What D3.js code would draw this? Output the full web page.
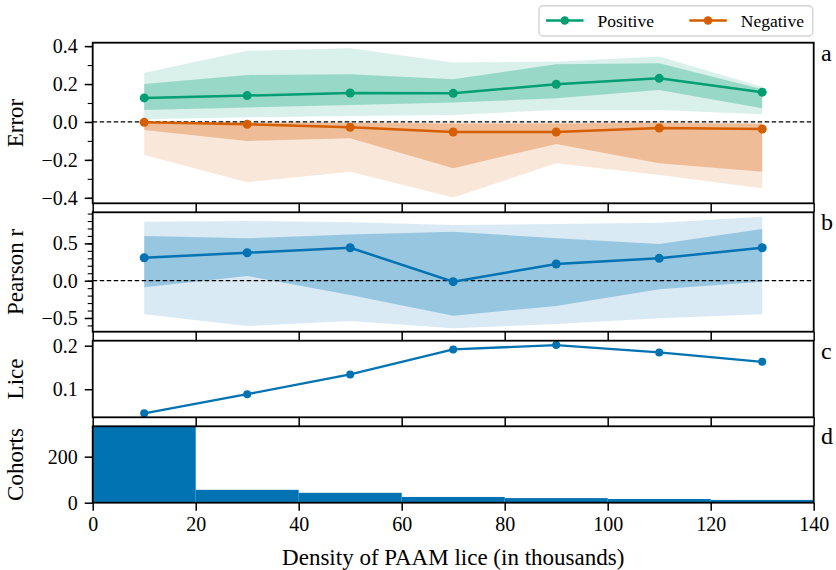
<!DOCTYPE html>
<html>
<head>
<meta charset="utf-8">
<script src="https://cdn.jsdelivr.net/npm/d3@7"></script>
<style>
  body { margin: 0; background: #fff; }
  svg { display: block; }
  text { font-family: "Liberation Serif", "Times New Roman", serif; fill: #000; }
</style>
</head>
<body>
<svg id="chart" width="836" height="570"></svg>
<script>
// Bin centres (density of PAAM lice, thousands)
const density = [10, 30, 50, 70, 90, 110, 130];

// Panel a: error for positive / negative cases, median with 25-75% and 5-95% bands
const posMean    = [0.127, 0.139, 0.153, 0.151, 0.199, 0.230, 0.157];
const posInnerHi = [0.200, 0.248, 0.252, 0.225, 0.304, 0.310, 0.172];
const posInnerLo = [0.063, 0.076, 0.090, 0.102, 0.125, 0.169, 0.072];
const posOuterHi = [0.260, 0.375, 0.389, 0.313, 0.318, 0.345, 0.186];
const posOuterLo = [0.014, 0.025, 0.032, 0.037, 0.063, 0.063, 0.040];

const negMean    = [-0.002, -0.012, -0.028, -0.053, -0.053, -0.032, -0.037];
const negInnerHi = [-0.003, -0.004, -0.006, -0.008, -0.008, -0.006, -0.010];
const negInnerLo = [-0.042, -0.100, -0.086, -0.244, -0.116, -0.218, -0.262];
const negOuterHi = [0.000, 0.000, -0.002, -0.003, -0.003, -0.002, -0.005];
const negOuterLo = [-0.174, -0.318, -0.262, -0.399, -0.218, -0.280, -0.350];

// Panel b: Pearson correlation
const pearsonMean    = [0.308, 0.375, 0.442, -0.013, 0.224, 0.300, 0.442];
const pearsonInnerHi = [0.599, 0.568, 0.621, 0.657, 0.568, 0.492, 0.693];
const pearsonInnerLo = [-0.089, 0.063, -0.192, -0.469, -0.339, -0.116, -0.013];
const pearsonOuterHi = [0.791, 0.800, 0.782, 0.747, 0.760, 0.778, 0.858];
const pearsonOuterLo = [-0.451, -0.607, -0.540, -0.638, -0.580, -0.504, -0.451];

// Panel c: mean lice
const lice = [0.0446, 0.0885, 0.134, 0.1915, 0.2015, 0.1845, 0.163];

// Panel d: cohort counts per density bin
const binEdges = [0, 20, 40, 60, 80, 100, 120, 140];
const cohorts = [332, 56, 43, 25, 20, 16, 12];

const xTicks = [0, 20, 40, 60, 80, 100, 120, 140];
const legendLabels = ["Positive", "Negative"];

const GREEN = "#029e73", ORANGE = "#d55e00", BLUE = "#0173b2";
const SERIF = '"Liberation Serif", "Times New Roman", serif';

const svg = d3.select("#chart");
const left = 92.7, right = 813.7;
const x = d3.scaleLinear().domain([0, 140]).range([left, right]);

const panels = [
  { key: "a", top: 42.7, bottom: 203.3, domain: [-0.429, 0.418], label: "Error",
    ticks: [-0.4, -0.2, 0.0, 0.2, 0.4], minor: d3.range(-0.4, 0.41, 0.1), fmt: ".1f" },
  { key: "b", top: 212.3, bottom: 331.7, domain: [-0.684, 0.917], label: "Pearson r",
    ticks: [-0.5, 0.0, 0.5], minor: d3.range(-0.6, 0.91, 0.1), fmt: ".1f" },
  { key: "c", top: 340.7, bottom: 417.3, domain: [0.0355, 0.2115], label: "Lice",
    ticks: [0.1, 0.2], minor: [], fmt: ".1f" },
  { key: "d", top: 426.3, bottom: 502.7, domain: [0, 332], label: "Cohorts",
    ticks: [0, 200], minor: [], fmt: "d" }
];
panels.forEach(p => {
  p.y = d3.scaleLinear().domain(p.domain).range([p.bottom, p.top]);
});
const [pa, pb, pc, pd] = panels;

function band(g, y, lo, hi, color, opacity) {
  const area = d3.area()
    .x((d, i) => x(density[i]))
    .y0((d, i) => y(lo[i]))
    .y1((d, i) => y(hi[i]));
  g.append("path").datum(density).attr("d", area)
    .attr("fill", color).attr("fill-opacity", opacity).attr("stroke", "none");
}

function series(g, y, vals, color, r, w) {
  const line = d3.line().x((d, i) => x(density[i])).y(d => y(d));
  g.append("path").datum(vals).attr("d", line)
    .attr("fill", "none").attr("stroke", color).attr("stroke-width", w);
  g.selectAll(null).data(vals).enter().append("circle")
    .attr("cx", (d, i) => x(density[i])).attr("cy", d => y(d)).attr("r", r)
    .attr("fill", color);
}

function zeroLine(g, y) {
  g.append("line").attr("x1", left).attr("x2", right)
    .attr("y1", y(0)).attr("y2", y(0))
    .attr("stroke", "#000").attr("stroke-width", 1.2)
    .attr("stroke-dasharray", "4.5,2.5");
}

// Panel a
{
  const g = svg.append("g");
  band(g, pa.y, posOuterLo, posOuterHi, GREEN, 0.15);
  band(g, pa.y, posInnerLo, posInnerHi, GREEN, 0.3);
  band(g, pa.y, negOuterLo, negOuterHi, ORANGE, 0.15);
  band(g, pa.y, negInnerLo, negInnerHi, ORANGE, 0.3);
  zeroLine(g, pa.y);
  series(g, pa.y, posMean, GREEN, 4.5, 2.5);
  series(g, pa.y, negMean, ORANGE, 4.5, 2.5);
}
// Panel b
{
  const g = svg.append("g");
  band(g, pb.y, pearsonOuterLo, pearsonOuterHi, BLUE, 0.15);
  band(g, pb.y, pearsonInnerLo, pearsonInnerHi, BLUE, 0.3);
  zeroLine(g, pb.y);
  series(g, pb.y, pearsonMean, BLUE, 4.5, 2.5);
}
// Panel c
{
  const g = svg.append("g");
  series(g, pc.y, lice, BLUE, 4, 2.3);
}
// Panel d: histogram
{
  const g = svg.append("g");
  g.selectAll(null).data(cohorts).enter().append("rect")
    .attr("x", (d, i) => x(binEdges[i]))
    .attr("width", (d, i) => x(binEdges[i + 1]) - x(binEdges[i]))
    .attr("y", d => pd.y(d))
    .attr("height", d => pd.y(0) - pd.y(d))
    .attr("fill", BLUE);
}

// Axes, frames and labels
panels.forEach((p, idx) => {
  const isLast = idx === panels.length - 1;

  const xa = svg.append("g").attr("transform", `translate(0,${p.bottom})`)
    .attr("font-family", SERIF)
    .call(d3.axisBottom(x).tickValues(xTicks).tickSize(isLast ? 8 : 9)
      .tickPadding(6.5).tickFormat(isLast ? d3.format("d") : () => ""));
  xa.attr("font-family", SERIF);
  xa.select(".domain").remove();
  xa.selectAll("line").attr("stroke", "#000").attr("stroke-width", 1.5);
  xa.selectAll("text").attr("font-size", 20).attr("fill", "#000")
    .style("font-family", SERIF);

  if (p.minor.length) {
    const ma = svg.append("g").attr("transform", `translate(${left},0)`)
      .call(d3.axisLeft(p.y).tickValues(p.minor).tickSize(5).tickFormat(() => ""));
    ma.select(".domain").remove();
    ma.selectAll("line").attr("stroke", "#000").attr("stroke-width", 1.1);
  }
  const ya = svg.append("g").attr("transform", `translate(${left},0)`)
    .call(d3.axisLeft(p.y).tickValues(p.ticks).tickSize(8).tickPadding(7)
      .tickFormat(d3.format(p.fmt)));
  ya.attr("font-family", SERIF);
  ya.select(".domain").remove();
  ya.selectAll("line").attr("stroke", "#000").attr("stroke-width", 1.5);
  ya.selectAll("text").attr("font-size", 20).attr("fill", "#000")
    .style("font-family", SERIF);

  svg.append("rect")
    .attr("x", left).attr("y", p.top)
    .attr("width", right - left).attr("height", p.bottom - p.top)
    .attr("fill", "none").attr("stroke", "#000").attr("stroke-width", 1.8);

  svg.append("text")
    .attr("transform", `translate(23,${(p.top + p.bottom) / 2}) rotate(-90)`)
    .attr("text-anchor", "middle").attr("font-size", 23)
    .text(p.label);

  svg.append("text")
    .attr("x", 821).attr("y", p.top + 18)
    .attr("font-size", 24)
    .text(p.key);
});

svg.append("text")
  .attr("x", (left + right) / 2).attr("y", 565)
  .attr("text-anchor", "middle").attr("font-size", 23)
  .text("Density of PAAM lice (in thousands)");

// Legend
{
  const g = svg.append("g");
  g.append("rect").attr("x", 539).attr("y", 5.7).attr("width", 273.7).attr("height", 30.3)
    .attr("rx", 4).attr("fill", "#fff").attr("stroke", "#d3d3d3").attr("stroke-width", 1.4);
  const items = [
    { label: legendLabels[0], color: GREEN, x0: 546 },
    { label: legendLabels[1], color: ORANGE, x0: 689.3 }
  ];
  items.forEach(it => {
    g.append("line").attr("x1", it.x0).attr("x2", it.x0 + 37.5)
      .attr("y1", 20.5).attr("y2", 20.5)
      .attr("stroke", it.color).attr("stroke-width", 2.5);
    g.append("circle").attr("cx", it.x0 + 18.75).attr("cy", 20.5).attr("r", 4.3)
      .attr("fill", it.color);
    g.append("text").attr("x", it.x0 + 51.5).attr("y", 26.5)
      .attr("font-size", 17.5).text(it.label);
  });
}
</script>
</body>
</html>
